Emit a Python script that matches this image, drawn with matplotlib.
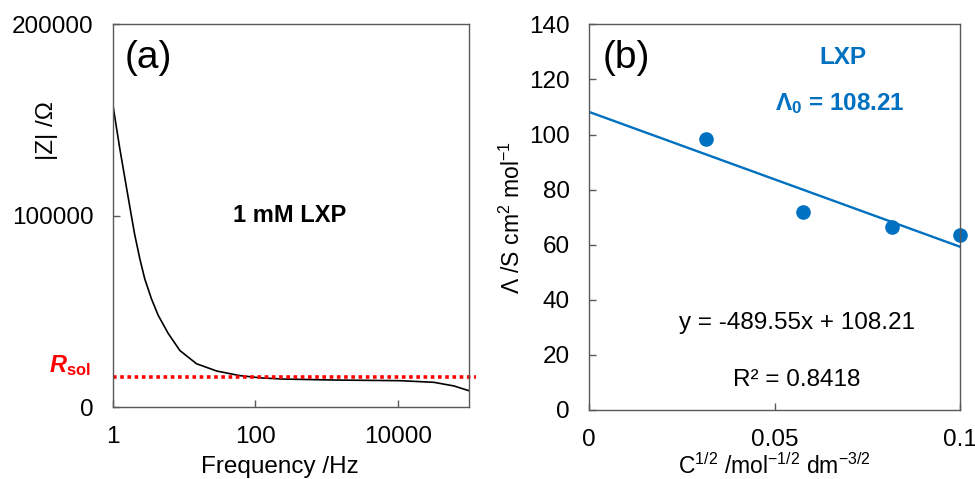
import numpy as np
import matplotlib
matplotlib.use("Agg")
import matplotlib.pyplot as plt

plt.rcParams['font.family'] = ['Liberation Sans', 'DejaVu Sans']
plt.rcParams['mathtext.fontset'] = 'custom'
plt.rcParams['mathtext.rm'] = 'Liberation Sans'
plt.rcParams['mathtext.it'] = 'Liberation Sans:italic'
plt.rcParams['mathtext.bf'] = 'Liberation Sans:bold'
plt.rcParams['mathtext.bfit'] = 'Liberation Sans:bold:italic'

# panel (a): impedance magnitude vs frequency
freq = [1, 1.24, 1.55, 1.82, 2.02, 2.38, 2.79, 3.47, 4.30, 5.95,
        8.7, 14.9, 28.6, 60.3, 120, 248, 1256, 10900, 32100, 61500, 100000]
z_mag = [157500, 135500, 114500, 99500, 90000, 77500, 67000, 56500,
         48000, 38500, 29500, 22600, 18800, 16400, 15200, 14600,
         14100, 13750, 12900, 11000, 8500]
r_sol = 15850

# panel (b): molar conductivity vs sqrt(C)
sqrt_c = [0.0316, 0.0577, 0.0816, 0.1]
molar_cond = [98.2, 71.9, 66.5, 63.5]
slope = -489.55
intercept = 108.21

blue = '#0070C0'
frame = '#595959'

fig = plt.figure(figsize=(9.75, 4.79), dpi=100)
W, H = 975, 479

def px_axes(x0, y0, x1, y1):
    return fig.add_axes([x0 / W, 1 - y1 / H, (x1 - x0) / W, (y1 - y0) / H])

def style(ax):
    for s in ax.spines.values():
        s.set_color(frame)
        s.set_linewidth(1.0)
    ax.tick_params(direction='in', length=5, width=1, color=frame,
                   labelsize=17.5, pad=14)

# === panel (a) ===
ax1 = px_axes(113, 24.3, 469, 407)
style(ax1)
ax1.plot(freq, z_mag, color='black', lw=1.2)
ax1.plot([1, 1.25e5], [r_sol, r_sol], color='red', lw=2.6,
         linestyle=(0, (1, 1)), clip_on=False)
ax1.set_xscale('log')
ax1.set_xlim(1, 1e5)
ax1.set_ylim(0, 200000)
ax1.set_xticks([1, 100, 10000])
ax1.set_xticklabels(['1', '100', '10000'])
ax1.xaxis.set_minor_locator(matplotlib.ticker.NullLocator())
ax1.set_yticks([0, 100000, 200000])
ax1.set_yticklabels(['0', '100000', '200000'])
ax1.text(0.033, 0.96, '(a)', transform=ax1.transAxes, fontsize=28,
         va='top', ha='left')
ax1.text(307, 100000, '1 mM LXP', transform=ax1.transData, fontsize=17,
         fontweight='bold', ha='center', va='center')
fig.text(47 / W, 1 - 131 / H, '|Z| /Ω', rotation=90, fontsize=17.5,
         ha='center', va='center')
fig.text(280 / W, 1 - 467 / H, 'Frequency /Hz', fontsize=17.5,
         ha='center', va='center')
fig.text(91 / W, 1 - 366 / H, r'$\mathbfit{R}_{\mathbf{sol}}$', color='red',
         fontsize=17, ha='right', va='center')

# === panel (b) ===
ax2 = px_axes(589, 24.3, 960, 410)
style(ax2)
xs = np.array([0, 0.1])
ax2.plot(xs, slope * xs + intercept, color=blue, lw=1.7)
ax2.plot(sqrt_c, molar_cond, 'o', color=blue, markersize=9.5, clip_on=False)
ax2.set_xlim(0, 0.1)
ax2.set_ylim(0, 140)
ax2.set_xticks([0, 0.05, 0.1])
ax2.set_xticklabels(['0', '0.05', '0.1'])
ax2.set_yticks(np.arange(0, 141, 20))
ax2.text(0.038, 0.96, '(b)', transform=ax2.transAxes, fontsize=28,
         va='top', ha='left')
ax2.text(0.685, 0.915, 'LXP', transform=ax2.transAxes, color=blue,
         fontsize=17.5, fontweight='bold', ha='center', va='center')
ax2.text(0.675, 0.795, r'Λ$_{\mathbf{0}}$ = 108.21', transform=ax2.transAxes,
         color=blue, fontsize=17.5, fontweight='bold', ha='center', va='center')
ax2.text(0.56, 0.225, 'y = -489.55x + 108.21', transform=ax2.transAxes,
         fontsize=17.5, ha='center', va='center')
ax2.text(0.56, 0.077, 'R² = 0.8418', transform=ax2.transAxes,
         fontsize=17.5, ha='center', va='center')
fig.text(512 / W, 1 - 218 / H, r'Λ /S cm$^{2}$ mol$^{-1}$', rotation=90,
         fontsize=16.5, ha='center', va='center')
fig.text(774 / W, 1 - 466 / H, r'C$^{1/2}$ /mol$^{-1/2}$ dm$^{-3/2}$',
         fontsize=16.5, ha='center', va='center')

fig.savefig('out.png', dpi=100)
